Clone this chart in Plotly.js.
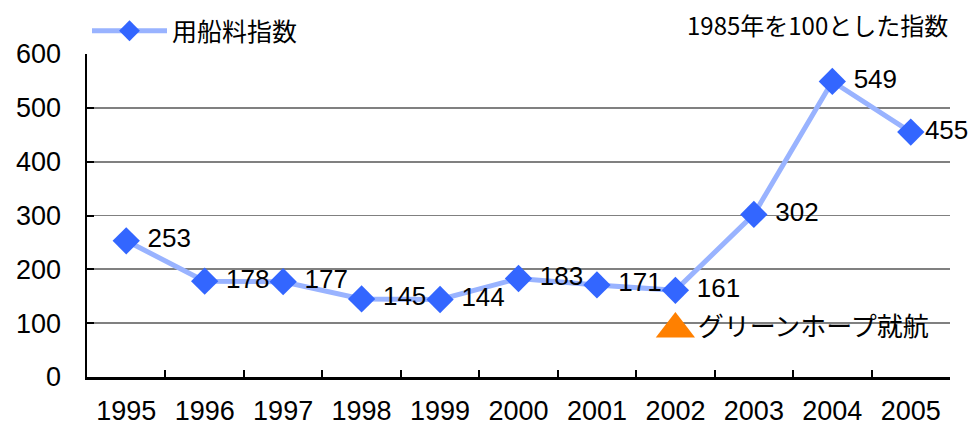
<!DOCTYPE html>
<html><head><meta charset="utf-8">
<script src="https://cdn.plot.ly/plotly-3.0.1.min.js"></script>
<style>body{margin:0;background:#fff}#c{width:969px;height:427px}</style>
</head><body><div id="c"></div>
<script>
const years = ['1995','1996','1997','1998','1999','2000','2001','2002','2003','2004','2005'];
const index = [253,178,177,145,144,183,171,161,302,549,455];
const seriesName = '用船料指数';
const eventYear = ['2002'];
const eventY = [89];
const eventText = ['グリーンホープ就航'];
const note = '1985年を100とした指数';

const jp = '"Noto Sans CJK JP", "Liberation Sans", sans-serif';
const num = '"Liberation Sans", Arial, sans-serif';
const last = index.length - 1;

const traces = [
  {
    type:'scatter', mode:'lines+markers+text', name:seriesName,
    x:years, y:index, text:index.map((v, i) => (i === last ? '' : ' ') + v), textposition:'middle right',
    textfont:{family:num, size:26, color:'#000'},
    line:{color:'#99b3ff', width:5},
    marker:{symbol:'diamond', size:21, color:'#3366ff'},
    cliponaxis:false
  },
  {
    type:'scatter', mode:'markers+text', showlegend:false,
    x:eventYear, y:eventY, text:eventText, textposition:'middle right',
    textfont:{family:jp, size:26, color:'#000'},
    marker:{symbol:'triangle-up', size:34, color:'#ff8000'},
    cliponaxis:false
  }
];

const layout = {
  width:969, height:427,
  margin:{l:87, r:19, t:54, b:50, autoexpand:false},
  paper_bgcolor:'#fff', plot_bgcolor:'#fff',
  showlegend:true,
  legend:{x:0, xanchor:'left', y:1.0, yanchor:'bottom', orientation:'h', itemwidth:75,
          font:{family:jp, size:25, color:'#000'}, bgcolor:'rgba(0,0,0,0)'},
  xaxis:{type:'category', range:[-0.5,10.5], showgrid:false,
         showline:true, linecolor:'#000', linewidth:2.5,
         ticks:'inside', tickson:'boundaries', ticklen:7, tickwidth:2, tickcolor:'#000',
         tickfont:{family:num, size:27, color:'#000'}, ticklabelstandoff:8},
  yaxis:{range:[0,600], dtick:100, showgrid:true, gridcolor:'#808080', gridwidth:1.8,
         showline:true, linecolor:'#000', linewidth:2.5, zeroline:false,
         ticks:'inside', ticklen:7, tickwidth:2, tickcolor:'#000',
         tickfont:{family:num, size:27, color:'#000'}, ticklabelstandoff:18},
  annotations:[{xref:'paper', yref:'paper', x:1.0, xanchor:'right', y:1.03, yanchor:'bottom',
                text:note, showarrow:false, font:{family:jp, size:24, color:'#000'}}]
};
Plotly.newPlot('c', traces, layout, {displayModeBar:false, staticPlot:true});
</script></body></html>
